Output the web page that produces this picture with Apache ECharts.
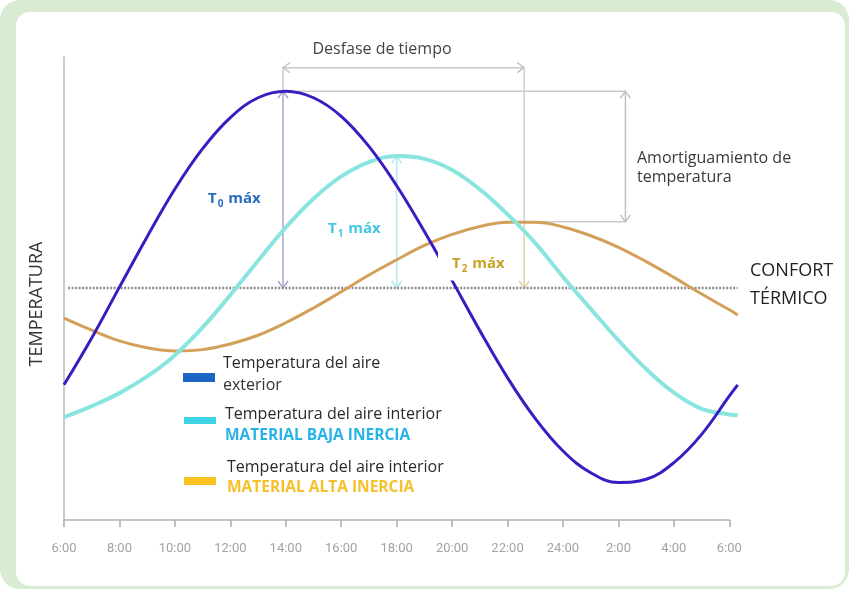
<!DOCTYPE html>
<html><head><meta charset="utf-8">
<script src="https://cdn.jsdelivr.net/npm/echarts@6/dist/echarts.min.js"></script>
<style>html,body{margin:0;padding:0;background:#fff}#c{width:849px;height:589px}</style>
</head><body><div id="c"></div>
<script>
// ---- data ----
const hours = [6,7,8,9,10,11,12,13,14,15,16,17,18,19,20,21,22,23,24,25,26,27,28,29,30,30.3];
const exterior    = [29.2,39.3,50.3,61.2,71.5,80.2,86.9,91.2,92.6,91.2,87.2,80.7,72.2,62.3,51.7,40.9,30.7,21.9,14.9,10.2,8.1,8.8,12.4,18.5,26.8,29.2];
const bajaInercia = [22.2,24.6,27.4,31.0,35.6,41.6,48.6,56.0,63.2,69.4,74.2,77.3,78.6,78.0,75.6,71.4,66.0,59.8,52.5,45.6,38.8,32.6,27.5,24.0,22.8,22.6];
const altaInercia = [43.6,41.0,38.7,37.2,36.5,36.8,38.0,39.9,42.6,45.8,49.3,52.9,56.2,59.3,61.7,63.4,64.3,64.3,63.3,61.4,58.9,55.8,52.4,48.8,45.4,44.3];
const tickValues = [6,8,10,12,14,16,18,20,22,24,26,28,30];
const tickLabels = ['6:00','8:00','10:00','12:00','14:00','16:00','18:00','20:00','22:00','24:00','2:00','4:00','6:00'];
const confortLevel = 50.1;
const confortSpan = [6.15, 30.3];
const peakHours  = [13.9, 18.0, 22.6];
const peakValues = [92.6, 78.6, 64.4];
const desfaseLevel = 97.7;
const amortHour = 26.25;
const peakLabels = [['T','0',' máx'],['T','1',' máx'],['T','2',' máx']];
const legendTitles = [['Temperatura del aire','exterior'],['Temperatura del aire interior','MATERIAL BAJA INERCIA'],['Temperatura del aire interior','MATERIAL ALTA INERCIA']];

const chart = echarts.init(document.getElementById('c'), null, {renderer:'canvas', width:849, height:589});
const pts = arr => hours.map((h,i)=>[h, arr[i]]);
const FONT = '"Open Sans", "DejaVu Sans", sans-serif';

chart.setOption({
  animation:false,
  backgroundColor:'transparent',
  grid:[
    {left:64, right:119.7, top:57, bottom:69},
    {left:64, right:111.3, top:57, bottom:69}
  ],
  xAxis:[
    {gridIndex:0, type:'value', min:6, max:30, interval:2,
     axisLine:{show:true, onZero:false, lineStyle:{color:'#b4b4b4', width:1.5}},
     axisTick:{show:true, length:7, lineStyle:{color:'#acacac', width:1.5}},
     splitLine:{show:false},
     axisLabel:{show:true, margin:22, color:'#a3a3a3', fontSize:13, fontFamily:'Roboto, sans-serif', showMinLabel:true, showMaxLabel:true,
       formatter:v=>{const i=tickValues.indexOf(Math.round(v)); return i>=0?tickLabels[i]:'';}}},
    {gridIndex:1, type:'value', min:6, max:30.3, show:false}
  ],
  yAxis:[
    {gridIndex:0, type:'value', min:0, max:100,
     axisLine:{show:true, onZero:false, lineStyle:{color:'#b8b8b8', width:1.5}},
     axisTick:{show:false}, axisLabel:{show:false}, splitLine:{show:false}},
    {gridIndex:1, type:'value', min:0, max:100, show:false}
  ],
  series:[
    {type:'line', xAxisIndex:1, yAxisIndex:1, z:1, symbol:'none',
     data:[[confortSpan[0],confortLevel],[confortSpan[1],confortLevel]],
     lineStyle:{color:'#8c8c8c', width:2.5, type:[2,1.5]}},
    {type:'line', name:'Alta inercia', xAxisIndex:1, yAxisIndex:1, z:3, symbol:'none', smooth:0.4,
     data:pts(altaInercia), lineStyle:{color:'#d3a05a', width:3}},
    {type:'line', name:'Baja inercia', xAxisIndex:1, yAxisIndex:1, z:3, symbol:'none', smooth:0.4,
     data:pts(bajaInercia), lineStyle:{color:'#8be5df', width:4}},
    {type:'line', name:'Exterior', xAxisIndex:1, yAxisIndex:1, z:4, symbol:'none', smooth:0.4,
     data:pts(exterior), lineStyle:{color:'#3a1cc2', width:3}}
  ]
});

const P = (h,v) => chart.convertToPixel({xAxisIndex:1, yAxisIndex:1}, [h,v]);
const g = [];
// frame
g.push({type:'rect', z:-100, shape:{x:0,y:0,width:849,height:589,r:20}, style:{fill:'#d9ecd3'}});
g.push({type:'rect', z:-99, shape:{x:16,y:12,width:829,height:574,r:14}, style:{fill:'#ffffff'}});

function seg(a,b,color,w){ g.push({type:'polyline', z:1, shape:{points:[a,b]}, style:{stroke:color, lineWidth:w||1.5, fill:null}}); }
function chev(p,dir,color){
  const [x,y]=p, L=7, W=5; let pts;
  if(dir==='up') pts=[[x-W,y+L],[x,y],[x+W,y+L]];
  if(dir==='down') pts=[[x-W,y-L],[x,y],[x+W,y-L]];
  if(dir==='left') pts=[[x+L,y-W],[x,y],[x+L,y+W]];
  if(dir==='right') pts=[[x-L,y-W],[x,y],[x-L,y+W]];
  g.push({type:'polyline', z:1, shape:{points:pts}, style:{stroke:color, lineWidth:1.5, fill:null}});
}
const gray='#c6c6c6';
// desfase de tiempo
const dA=P(peakHours[0],desfaseLevel), dB=P(peakHours[2],desfaseLevel);
seg(dA,dB,gray); chev(dA,'left',gray); chev(dB,'right',gray);
// blue vertical
const b0=P(peakHours[0],peakValues[0]), bC=P(peakHours[0],confortLevel);
seg(dA,b0,gray); seg(b0,bC,'#aaa6cc'); chev(b0,'up','#aaa6cc'); chev(bC,'down','#aaa6cc');
// cyan vertical
const c0=P(peakHours[1],peakValues[1]), cC=P(peakHours[1],confortLevel);
seg(c0,cC,'#b4eaea'); chev(c0,'up','#b4eaea'); chev(cC,'down','#b4eaea');
// orange vertical
const o0=P(peakHours[2],peakValues[2]), oC=P(peakHours[2],confortLevel);
seg(dB,o0,'#cfcfcf'); seg(o0,oC,'#e2d2aa'); chev(oC,'down','#e2d2aa');
// amortiguamiento
const a0=P(amortHour,peakValues[0]), a2=P(amortHour,peakValues[2]);
seg(b0,a0,'#cbcbcb'); seg(o0,a2,'#cbcbcb'); seg(a0,a2,'#c2c2c2'); chev(a0,'up','#c2c2c2'); chev(a2,'down','#c2c2c2');

function txt(s,x,y,o){ g.push({type:'text', z:10, style:Object.assign({text:s, x:x, y:y, fill:'#333', fontSize:15, fontFamily:FONT, align:'left', verticalAlign:'middle'}, o||{})}); }
txt('Desfase de tiempo',382,49,{align:'center', fontSize:16, fill:'#444'});
txt('Amortiguamiento de',637,158,{fontSize:16, fill:'#3a3a3a'});
txt('temperatura',637,177,{fontSize:16, fill:'#3a3a3a'});
txt('CONFORT',750,271,{fontSize:18, fill:'#222'});
txt('TÉRMICO',750,299,{fontSize:18, fill:'#222'});
g.push({type:'text', z:10, x:37, y:304, rotation:Math.PI/2, style:{text:'TEMPERATURA', x:0, y:0, fill:'#333', fontSize:18, fontFamily:FONT, align:'center', verticalAlign:'middle'}});

// peak labels
const pkColors=['#2a6cbf','#43c6e6','#c9a227'];
const pkPos=[[208,197],[328,227],[452,266]];
peakLabels.forEach((p,i)=>{
  const c=pkColors[i];
  const st={text:'{m|'+p[0]+'}{s|'+p[1]+'}{m|'+p[2]+'}', x:pkPos[i][0], y:pkPos[i][1], align:'left', verticalAlign:'middle',
    rich:{m:{fontSize:15, fontWeight:'bold', fontFamily:FONT, fill:c, lineHeight:18, verticalAlign:'bottom'},
          s:{fontSize:10, fontWeight:'bold', fontFamily:FONT, fill:c, lineHeight:12, verticalAlign:'bottom', padding:[0,1,-3,1]}}};
  if(i===2){ st.backgroundColor='#fff'; st.padding=[2,6,9,14]; st.x=pkPos[i][0]-14; }
  g.push({type:'text', z:10, style:st});
});

// legend
const swColors=['#1a66c2','#3dd5e6','#f8c21c'];
const swBox=[[183,373,32,9],[184,417,32,7],[184,477,32,8]];
const lgPos=[[223,363,385],[225,414,436],[227,467,488]];
const lgSub=[{fill:'#333', fontWeight:'normal'},{fill:'#27b3e7', fontWeight:'bold'},{fill:'#f5c02a', fontWeight:'bold'}];
legendTitles.forEach((t,i)=>{
  g.push({type:'rect', z:10, shape:{x:swBox[i][0],y:swBox[i][1],width:swBox[i][2],height:swBox[i][3]}, style:{fill:swColors[i]}});
  txt(t[0],lgPos[i][0],lgPos[i][1],{fontSize:16, fill:'#2a2a2a'});
  txt(t[1],lgPos[i][0],lgPos[i][2],Object.assign({fontSize:i===0?16:15.5},lgSub[i]));
});

chart.setOption({graphic:{elements:g}});
</script></body></html>
